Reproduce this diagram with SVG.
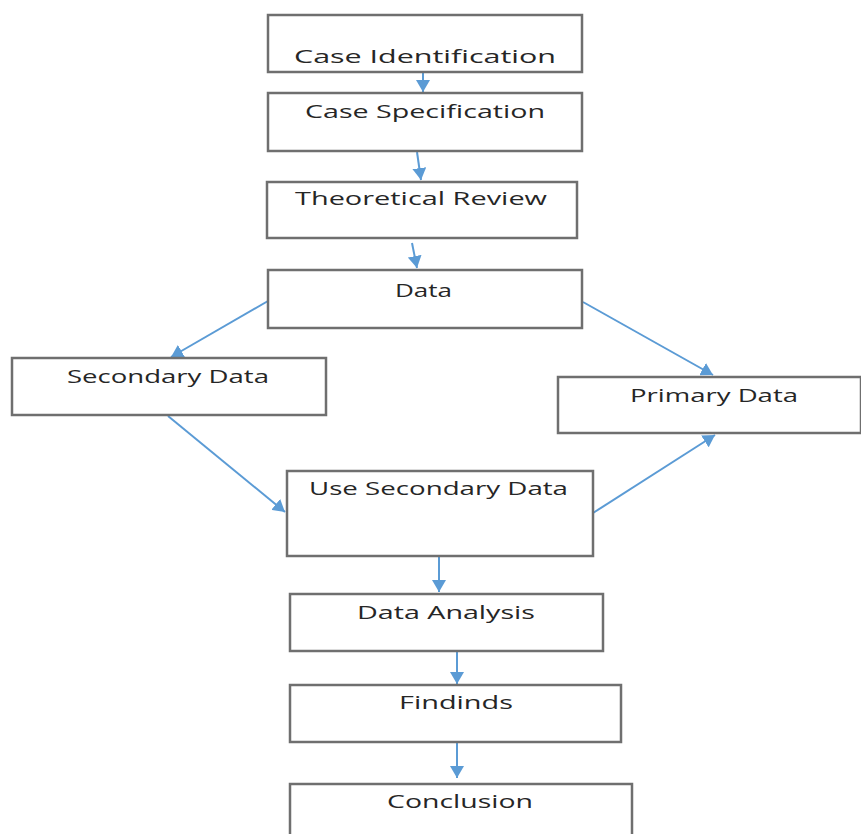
<svg xmlns="http://www.w3.org/2000/svg" width="861" height="834" viewBox="0 0 861 834">
<style>
.box{fill:#fff;stroke:#6f6f6f;stroke-width:2.5}
.lbl{font-family:"Open Sans","Noto Sans","Liberation Sans",sans-serif;font-size:19px;fill:#262626}
.con{stroke:#5b9bd5;stroke-width:2;fill:none;marker-end:url(#ah)}
</style>
<defs>
<marker id="ah" markerUnits="userSpaceOnUse" markerWidth="14" markerHeight="14" viewBox="0 0 14 14" refX="12" refY="7" orient="auto">
<path d="M0,0 L12,7 L0,14 Z" fill="#5b9bd5"/>
</marker>
</defs>
<rect width="861" height="834" fill="#fff"/>
<g id="connectors">
<line class="con" x1="423" y1="72" x2="423" y2="92"/>
<line class="con" x1="417" y1="152" x2="421" y2="180"/>
<line class="con" x1="412" y1="243" x2="417" y2="268"/>
<line class="con" x1="268" y1="301" x2="171" y2="357"/>
<line class="con" x1="583" y1="302" x2="713" y2="375"/>
<line class="con" x1="168" y1="416" x2="285" y2="512"/>
<line class="con" x1="593" y1="513" x2="715" y2="435"/>
<line class="con" x1="439" y1="556" x2="439" y2="592"/>
<line class="con" x1="457" y1="652" x2="457" y2="684"/>
<line class="con" x1="457" y1="743" x2="457" y2="778"/>
</g>
<g id="n1"><rect class="box" x="268" y="15" width="314" height="57"/><text class="lbl" x="294" y="63" textLength="262" lengthAdjust="spacingAndGlyphs">Case Identification</text></g>
<g id="n2"><rect class="box" x="268" y="93" width="314" height="58"/><text class="lbl" x="305" y="118" textLength="240" lengthAdjust="spacingAndGlyphs">Case Specification</text></g>
<g id="n3"><rect class="box" x="267" y="182" width="310" height="56"/><text class="lbl" x="295" y="205" textLength="252" lengthAdjust="spacingAndGlyphs">Theoretical Review</text></g>
<g id="n4"><rect class="box" x="268" y="270" width="314" height="58"/><text class="lbl" x="395" y="297" textLength="57" lengthAdjust="spacingAndGlyphs">Data</text></g>
<g id="n5"><rect class="box" x="12" y="358" width="314" height="57"/><text class="lbl" x="67" y="383" textLength="202" lengthAdjust="spacingAndGlyphs">Secondary Data</text></g>
<g id="n6"><rect class="box" x="558" y="377" width="303" height="56"/><text class="lbl" x="630" y="402" textLength="168" lengthAdjust="spacingAndGlyphs">Primary Data</text></g>
<g id="n7"><rect class="box" x="287" y="471" width="306" height="85"/><text class="lbl" x="309" y="495" textLength="259" lengthAdjust="spacingAndGlyphs">Use Secondary Data</text></g>
<g id="n8"><rect class="box" x="290" y="594" width="313" height="57"/><text class="lbl" x="357" y="619" textLength="178" lengthAdjust="spacingAndGlyphs">Data Analysis</text></g>
<g id="n9"><rect class="box" x="290" y="685" width="331" height="57"/><text class="lbl" x="399" y="709" textLength="114" lengthAdjust="spacingAndGlyphs">Findinds</text></g>
<g id="n10"><rect class="box" x="290" y="784" width="342" height="60"/><text class="lbl" x="387" y="808" textLength="146" lengthAdjust="spacingAndGlyphs">Conclusion</text></g>
</svg>
